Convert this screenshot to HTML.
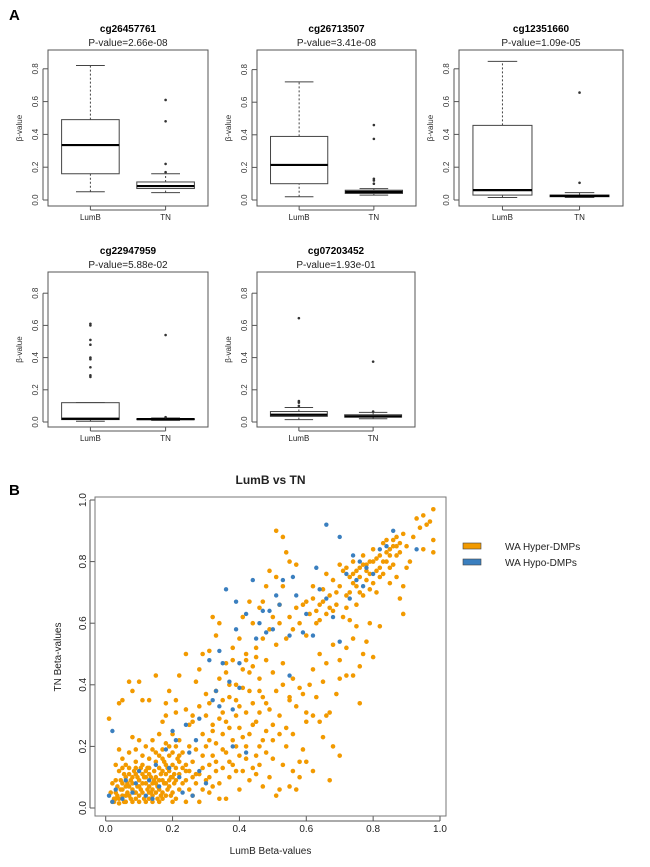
<!DOCTYPE html>
<html><head><meta charset="utf-8"><style>
html,body{margin:0;padding:0;background:#fff;}
svg{display:block;font-family:"Liberation Sans",Arial,sans-serif;}
</style></head>
<body>
<svg id="fig" width="650" height="867" viewBox="0 0 650 867">
<text x="9" y="20" font-size="15" font-weight="bold">A</text>
<text x="9" y="495" font-size="15" font-weight="bold">B</text>
</svg>
<script>
// ---- Boxplot data ----
const probeNames = ["cg26457761","cg26713507","cg12351660","cg22947959","cg07203452"];
const pValues = ["2.66e-08","3.41e-08","1.09e-05","5.88e-02","1.93e-01"];
const groupLabels = ["LumB","TN"];
const lumbStats = [[0.05,0.16,0.335,0.49,0.82],[0.02,0.10,0.215,0.39,0.725],[0.015,0.03,0.06,0.455,0.845],[0.005,0.015,0.02,0.12,0.12],[0.015,0.035,0.045,0.065,0.09]];
const tnStats = [[0.045,0.07,0.085,0.11,0.16],[0.03,0.04,0.05,0.06,0.07],[0.015,0.02,0.025,0.03,0.045],[0.01,0.015,0.018,0.02,0.025],[0.02,0.03,0.035,0.045,0.06]];
const lumbOutliers = [[],[],[],[0.28,0.29,0.34,0.39,0.40,0.48,0.51,0.60,0.61],[0.10,0.12,0.13,0.645]];
const tnOutliers = [[0.17,0.22,0.48,0.61],[0.10,0.12,0.13,0.375,0.46],[0.105,0.655],[0.03,0.54],[0.065,0.375]];
const boxTicks = [0,0.2,0.4,0.6,0.8];
const boxTickLabels = ["0.0","0.2","0.4","0.6","0.8"];

// ---- Scatter data ----
const scatterTicks = [0,0.2,0.4,0.6,0.8,1.0];
const scatterTickLabels = ["0.0","0.2","0.4","0.6","0.8","1.0"];
const hyperPoints = [[0.02,0.02],[0.03,0.05],[0.04,0.03],[0.05,0.08],[0.06,0.02],[0.07,0.04],[0.08,0.06],[0.09,0.03],[0.10,0.09],[0.11,0.05],[0.12,0.02],[0.13,0.07],[0.14,0.04],[0.15,0.10],[0.16,0.06],[0.17,0.03],[0.18,0.08],[0.19,0.12],[0.20,0.05],[0.21,0.09],
[0.03,0.09],[0.04,0.12],[0.05,0.04],[0.06,0.10],[0.07,0.13],[0.08,0.02],[0.09,0.11],[0.10,0.04],[0.11,0.14],[0.12,0.08],[0.13,0.11],[0.14,0.02],[0.15,0.05],[0.16,0.13],[0.17,0.09],[0.18,0.04],[0.19,0.07],[0.20,0.14],[0.21,0.03],[0.22,0.11],
[0.025,0.03],[0.035,0.07],[0.045,0.06],[0.055,0.11],[0.065,0.05],[0.075,0.09],[0.085,0.12],[0.095,0.07],[0.105,0.06],[0.115,0.10],[0.125,0.13],[0.135,0.05],[0.145,0.09],[0.155,0.03],[0.165,0.11],[0.175,0.15],[0.185,0.06],[0.195,0.10],[0.205,0.08],[0.215,0.16],
[0.04,0.015],[0.06,0.07],[0.08,0.10],[0.10,0.02],[0.12,0.12],[0.14,0.08],[0.16,0.02],[0.18,0.11],[0.20,0.02],[0.22,0.06],[0.24,0.09],[0.26,0.04],[0.23,0.13],[0.25,0.12],[0.27,0.08],[0.28,0.11],[0.29,0.06],[0.30,0.09],[0.24,0.02],[0.26,0.15],
[0.09,0.15],[0.11,0.17],[0.13,0.16],[0.07,0.18],[0.15,0.18],[0.17,0.19],[0.19,0.17],[0.21,0.20],[0.23,0.18],[0.12,0.20],[0.14,0.22],[0.16,0.24],[0.18,0.21],[0.20,0.24],[0.22,0.22],[0.25,0.20],[0.27,0.19],[0.29,0.17],[0.31,0.14],[0.33,0.12],
[0.08,0.23],[0.10,0.22],[0.06,0.14],[0.05,0.16],[0.04,0.19],[0.03,0.14],[0.02,0.08],[0.09,0.19],[0.13,0.03],[0.17,0.05],
[0.015,0.05],[0.025,0.02],[0.035,0.04],[0.045,0.09],[0.055,0.02],[0.065,0.08],[0.075,0.03],[0.085,0.05],[0.095,0.10],[0.105,0.13],[0.115,0.03],[0.125,0.06],[0.135,0.10],[0.145,0.12],[0.155,0.07],[0.165,0.04],[0.175,0.08],[0.185,0.13],[0.195,0.04],[0.205,0.11],
[0.03,0.03],[0.05,0.06],[0.07,0.07],[0.09,0.05],[0.11,0.08],[0.13,0.05],[0.15,0.08],[0.17,0.12],[0.19,0.09],[0.21,0.13],[0.23,0.08],[0.25,0.06],[0.27,0.11],[0.29,0.13],[0.31,0.10],[0.32,0.07],[0.26,0.10],[0.24,0.14],[0.22,0.15],[0.20,0.18],
[0.06,0.04],[0.08,0.08],[0.10,0.07],[0.12,0.10],[0.14,0.06],[0.16,0.09],[0.18,0.14],[0.20,0.10],[0.22,0.17],[0.24,0.12],[0.11,0.11],[0.13,0.13],[0.15,0.15],[0.17,0.16],[0.19,0.20],[0.07,0.11],[0.05,0.13],[0.09,0.13],[0.14,0.19],[0.16,0.17],
[0.01,0.29],[0.04,0.34],[0.05,0.35],[0.07,0.41],[0.08,0.38],[0.10,0.41],[0.11,0.35],[0.13,0.35],[0.15,0.43],[0.17,0.28],[0.18,0.30],[0.18,0.34],[0.19,0.38],[0.21,0.35],[0.22,0.43],[0.21,0.31],[0.26,0.28],[0.24,0.50],[0.27,0.41],[0.28,0.45],[0.29,0.50],[0.30,0.37],[0.31,0.51],[0.32,0.62],[0.33,0.56],[0.34,0.60],[0.26,0.30],[0.24,0.32],[0.25,0.27],[0.28,0.33],
[0.30,0.30],[0.31,0.34],[0.32,0.27],[0.33,0.38],[0.34,0.42],[0.35,0.31],[0.36,0.44],[0.37,0.36],[0.38,0.48],[0.39,0.40],[0.40,0.33],[0.41,0.45],[0.42,0.50],[0.43,0.38],[0.44,0.46],[0.45,0.52],[0.46,0.42],[0.47,0.55],[0.48,0.48],[0.49,0.58],[0.50,0.44],[0.51,0.53],[0.52,0.60],[0.53,0.47],
[0.35,0.24],[0.36,0.28],[0.38,0.22],[0.39,0.30],[0.40,0.26],[0.42,0.31],[0.43,0.24],[0.44,0.34],[0.45,0.28],[0.46,0.20],[0.47,0.36],[0.48,0.25],[0.49,0.32],[0.50,0.22],[0.51,0.38],[0.52,0.30],[0.53,0.40],[0.54,0.26],[0.55,0.36],[0.56,0.42],
[0.30,0.20],[0.32,0.17],[0.33,0.15],[0.34,0.08],[0.35,0.13],[0.36,0.03],[0.37,0.10],[0.38,0.14],[0.40,0.06],[0.41,0.12],[0.42,0.16],[0.43,0.09],[0.44,0.13],[0.45,0.11],[0.46,0.14],[0.47,0.07],[0.48,0.18],[0.49,0.10],[0.50,0.16],[0.51,0.04],[0.52,0.06],[0.53,0.14],[0.55,0.07],[0.56,0.12],[0.57,0.06],[0.58,0.15],[0.59,0.19],[0.60,0.15],[0.62,0.12],[0.65,0.23],[0.67,0.09],[0.68,0.20],[0.70,0.17],[0.58,0.10],[0.54,0.20],[0.56,0.24],[0.60,0.28],[0.62,0.30],[0.64,0.28],[0.66,0.30],[0.31,0.05],[0.28,0.02],[0.34,0.03],[0.33,0.21],[0.36,0.18],[0.39,0.20],[0.41,0.23],[0.45,0.17],[0.47,0.22],[0.52,0.24],
[0.32,0.25],[0.34,0.29],[0.37,0.26],[0.29,0.24],[0.31,0.22],[0.35,0.19],[0.37,0.15],[0.39,0.12],[0.40,0.17],[0.42,0.20],[0.44,0.27],[0.46,0.31],[0.48,0.34],[0.50,0.27],[0.35,0.35],[0.37,0.40],[0.39,0.35],[0.41,0.39],[0.43,0.44],[0.46,0.38],
[0.55,0.35],[0.57,0.33],[0.58,0.39],[0.59,0.37],[0.60,0.31],[0.61,0.40],[0.63,0.36],[0.65,0.41],[0.67,0.31],[0.69,0.37],[0.70,0.42],[0.72,0.43],[0.74,0.43],[0.76,0.34],[0.77,0.50],[0.80,0.49],[0.62,0.45],[0.64,0.50],[0.66,0.47],[0.68,0.53],[0.70,0.48],[0.72,0.52],[0.74,0.55],[0.76,0.46],[0.78,0.54],[0.82,0.59],[0.79,0.60],[0.75,0.59],
[0.54,0.55],[0.55,0.62],[0.56,0.58],[0.57,0.65],[0.58,0.60],[0.59,0.66],[0.60,0.56],[0.61,0.63],[0.62,0.68],[0.63,0.60],[0.64,0.66],[0.65,0.71],[0.66,0.63],[0.67,0.69],[0.68,0.74],[0.69,0.66],[0.70,0.72],[0.71,0.77],[0.72,0.69],[0.73,0.75],[0.74,0.80],[0.75,0.72],[0.76,0.78],[0.77,0.82],[0.78,0.74],[0.79,0.80],[0.80,0.84],[0.81,0.77],[0.82,0.82],[0.83,0.86],[0.84,0.80],[0.85,0.84],[0.86,0.87],[0.87,0.82],[0.88,0.86],[0.89,0.89],[0.90,0.85],
[0.60,0.67],[0.62,0.72],[0.64,0.61],[0.66,0.76],[0.68,0.64],[0.70,0.79],[0.72,0.65],[0.74,0.76],[0.76,0.70],[0.78,0.79],[0.80,0.73],[0.82,0.75],[0.84,0.87],[0.86,0.79],[0.88,0.83],[0.71,0.62],[0.73,0.61],[0.75,0.66],[0.77,0.69],[0.79,0.71],[0.81,0.70],[0.83,0.76],[0.85,0.78],[0.87,0.85],
[0.72,0.78],[0.74,0.73],[0.76,0.75],[0.78,0.77],[0.80,0.80],[0.82,0.78],[0.84,0.83],[0.86,0.85],[0.73,0.70],[0.75,0.77],[0.77,0.79],[0.79,0.76],[0.81,0.81],[0.83,0.80],[0.85,0.82],[0.87,0.88],[0.69,0.70],[0.67,0.65],[0.65,0.67],[0.63,0.64],
[0.51,0.90],[0.53,0.88],[0.54,0.83],[0.49,0.77],[0.51,0.75],[0.55,0.80],[0.57,0.79],[0.48,0.72],[0.53,0.72],[0.92,0.88],[0.93,0.94],[0.94,0.91],[0.95,0.95],[0.96,0.92],[0.97,0.93],[0.98,0.97],[0.98,0.87],[0.98,0.83],[0.95,0.84],[0.90,0.78],[0.89,0.72],[0.85,0.73],[0.88,0.68],[0.89,0.63],[0.91,0.80],[0.87,0.75],
[0.44,0.60],[0.46,0.65],[0.40,0.55],[0.42,0.48],[0.38,0.52],[0.45,0.49],[0.36,0.47],[0.41,0.62],[0.43,0.67],[0.47,0.67],[0.50,0.62],[0.52,0.66]];
const hypoPoints = [[0.02,0.25],[0.01,0.04],[0.02,0.02],[0.03,0.06],[0.05,0.03],[0.06,0.09],[0.08,0.05],[0.10,0.12],[0.12,0.04],[0.13,0.09],[0.15,0.14],[0.16,0.07],[0.18,0.19],[0.19,0.13],[0.20,0.25],[0.21,0.22],[0.22,0.10],[0.23,0.05],[0.24,0.27],[0.25,0.18],[0.27,0.22],[0.28,0.29],[0.30,0.08],[0.31,0.48],[0.32,0.35],[0.33,0.38],[0.34,0.33],[0.34,0.51],[0.35,0.47],[0.36,0.71],[0.37,0.41],[0.38,0.32],[0.38,0.20],[0.39,0.58],[0.39,0.67],[0.40,0.47],[0.40,0.39],[0.42,0.63],[0.44,0.74],[0.45,0.55],[0.46,0.60],[0.47,0.64],[0.48,0.57],[0.49,0.64],[0.50,0.58],[0.51,0.69],[0.52,0.66],[0.53,0.74],[0.55,0.56],[0.55,0.43],[0.56,0.75],[0.57,0.69],[0.59,0.57],[0.60,0.63],[0.62,0.56],[0.63,0.78],[0.64,0.71],[0.66,0.92],[0.66,0.68],[0.68,0.62],[0.70,0.88],[0.70,0.54],[0.72,0.76],[0.74,0.82],[0.75,0.74],[0.76,0.80],[0.78,0.78],[0.80,0.76],[0.82,0.84],[0.84,0.85],[0.86,0.90],[0.93,0.84],[0.73,0.68],[0.77,0.72],[0.42,0.18],[0.28,0.12],[0.26,0.04],[0.14,0.03],[0.09,0.08]];

const NS = "http://www.w3.org/2000/svg";
const svg = document.getElementById("fig");
function mk(tag, attrs, parent, txt) {
  const e = document.createElementNS(NS, tag);
  for (const k in attrs) e.setAttribute(k, attrs[k]);
  if (txt !== undefined) e.textContent = txt;
  (parent || svg).appendChild(e);
  return e;
}

const panels = [
  {l:48,r:208,t:50,b:206,y0:200,s:164},
  {l:257,r:416,t:50,b:206,y0:200,s:163},
  {l:459,r:623,t:50,b:206,y0:200,s:164},
  {l:48,r:208,t:272,b:427,y0:422,s:161},
  {l:257,r:415,t:272,b:427,y0:422,s:161}
];

panels.forEach((p, i) => {
  const g = mk("g", {});
  
  
  const yS = v => p.y0 - v * p.s;
  const cx = (p.l + p.r) / 2;
  const t1 = mk("text", {x:cx, y:p.t-18, "font-size":10, "font-weight":"bold", "text-anchor":"middle"}, g, probeNames[i]);
  
  
  const t2 = mk("text", {x:cx, y:p.t-4, "font-size":10, "text-anchor":"middle", fill:"#222"}, g, "P-value=" + pValues[i]);
  
  
  const frame = mk("rect", {x:p.l, y:p.t, width:p.r-p.l, height:p.b-p.t, fill:"none", stroke:"#555", "stroke-width":1}, g);
  
  
  boxTicks.forEach((tv, k) => {
    const y = yS(tv);
    mk("line", {x1:p.l-5, x2:p.l, y1:y, y2:y, stroke:"#555"}, g);
    const tl = mk("text", {x:p.l-10, y:y, "font-size":8, fill:"#333", "text-anchor":"middle", transform:`rotate(-90 ${p.l-10} ${y})`}, g, boxTickLabels[k]);
    
    
  });
  mk("line", {x1:p.l-5, x2:p.l-5, y1:yS(0), y2:yS(0.8), stroke:"#555"}, g);
  const yl = mk("text", {x:p.l-26, y:(p.t+p.b)/2, "font-size":8, fill:"#333", "text-anchor":"middle", transform:`rotate(-90 ${p.l-26} ${(p.t+p.b)/2})`}, g, "β-value");
  
  
  const w = p.r - p.l;
  const xs = [p.l + 0.265*w, p.l + 0.735*w];
  const hw = 0.18 * w;
  [[lumbStats[i], lumbOutliers[i]], [tnStats[i], tnOutliers[i]]].forEach((d, gi) => {
    const st = d[0], x = xs[gi];
    const bg = mk("g", {}, g);
    
    
    mk("line", {x1:x, x2:x, y1:yS(st[0]), y2:yS(st[1]), stroke:"#444", "stroke-dasharray":"2,2"}, bg);
    mk("line", {x1:x, x2:x, y1:yS(st[3]), y2:yS(st[4]), stroke:"#444", "stroke-dasharray":"2,2"}, bg);
    mk("line", {x1:x-hw/2, x2:x+hw/2, y1:yS(st[0]), y2:yS(st[0]), stroke:"#444"}, bg);
    mk("line", {x1:x-hw/2, x2:x+hw/2, y1:yS(st[4]), y2:yS(st[4]), stroke:"#444"}, bg);
    mk("rect", {x:x-hw, y:yS(st[3]), width:2*hw, height:Math.max(0.5, yS(st[1])-yS(st[3])), fill:"#fff", stroke:"#444"}, bg);
    mk("line", {x1:x-hw, x2:x+hw, y1:yS(st[2]), y2:yS(st[2]), stroke:"#000", "stroke-width":2.2}, bg);
    d[1].forEach(o => {
      const c = mk("circle", {cx:x, cy:yS(o), r:1.3, fill:"#333"}, bg);
      
      
    });
    mk("line", {x1:x, x2:x, y1:p.b, y2:p.b+4, stroke:"#555"}, g);
    const xl = mk("text", {x:x, y:p.b+14, "font-size":8, fill:"#222", "text-anchor":"middle"}, g, groupLabels[gi]);
    
    
  });
  mk("line", {x1:xs[0], x2:xs[1], y1:p.b+4, y2:p.b+4, stroke:"#555"}, g);
});

// ---- Scatter ----
const S = {l:95, r:446, t:497, b:816};
const sx = v => 105.7 + v * 334.3;
const sy = v => 808 - v * 308;
const sg = mk("g", {});


const st = mk("text", {x:(S.l+S.r)/2, y:484, "font-size":12, "font-weight":"bold", "text-anchor":"middle", fill:"#222"}, sg, "LumB vs TN");


scatterTicks.forEach((tv, k) => {
  const x = sx(tv), y = sy(tv);
  mk("line", {x1:x, x2:x, y1:S.b, y2:S.b+5, stroke:"#555"}, sg);
  const xt = mk("text", {x:x, y:S.b+16, "font-size":10, "text-anchor":"middle", fill:"#222"}, sg, scatterTickLabels[k]);
  
  
  mk("line", {x1:S.l-5, x2:S.l, y1:y, y2:y, stroke:"#555"}, sg);
  const yt = mk("text", {x:S.l-9, y:y, "font-size":10, "text-anchor":"middle", fill:"#222", transform:`rotate(-90 ${S.l-9} ${y})`}, sg, scatterTickLabels[k]);
  
  
});
mk("line", {x1:sx(0), x2:sx(1), y1:S.b+5, y2:S.b+5, stroke:"#555"}, sg);
mk("line", {x1:S.l-5, x2:S.l-5, y1:sy(0), y2:sy(1), stroke:"#555"}, sg);
const xat = mk("text", {x:(S.l+S.r)/2, y:854, "font-size":10, "text-anchor":"middle", fill:"#222"}, sg, "LumB Beta-values");


const yat = mk("text", {x:61, y:657, "font-size":10, "text-anchor":"middle", fill:"#222", transform:"rotate(-90 61 657)"}, sg, "TN Beta-values");


hyperPoints.forEach(pt => {
  const c = mk("circle", {cx:sx(pt[0]), cy:sy(pt[1]), r:2.3, fill:"#F29A00"}, sg);
  
  
});
hypoPoints.forEach(pt => {
  const c = mk("circle", {cx:sx(pt[0]), cy:sy(pt[1]), r:2.2, fill:"#3A7FBF"}, sg);
  
  
});
const sf = mk("rect", {x:S.l, y:S.t, width:S.r-S.l, height:S.b-S.t, fill:"none", stroke:"#777", "stroke-width":1}, sg);



const lg = mk("g", {});


[["#F29A00","WA Hyper-DMPs",543],["#3A7FBF","WA Hypo-DMPs",559]].forEach(e => {
  const eg = mk("g", {}, lg);
  
  
  mk("rect", {x:463, y:e[2], width:18, height:6, fill:e[0], stroke:"#444", "stroke-width":0.6}, eg);
  mk("text", {x:505, y:e[2]+7, "font-size":10, fill:"#222"}, eg, e[1]);
});
</script>
</body></html>
